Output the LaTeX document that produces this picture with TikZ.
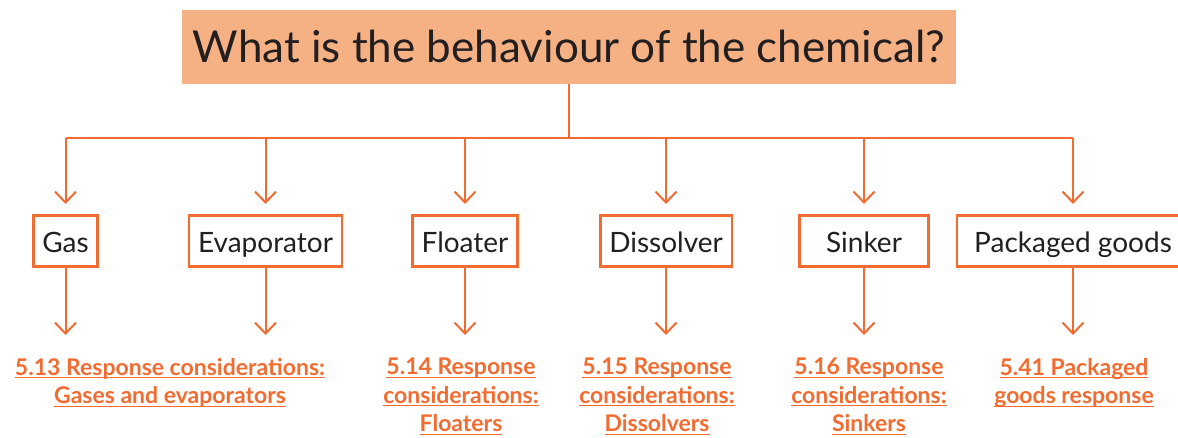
\documentclass[tikz,border=0pt]{standalone}
\usepackage{fontspec}
\setmainfont{Lato}
\usetikzlibrary{arrows.meta}
\definecolor{chemorange}{HTML}{F26B30}
\definecolor{chempeach}{HTML}{F5B184}
\definecolor{chemtext}{HTML}{231F20}
% underlined link text, rule just under the baseline
\newcommand{\underlink}[1]{\leavevmode\setbox0=\hbox{#1}\rlap{\rule[-3pt]{\wd0}{1.2pt}}\box0}
\tikzset{%
  >={Straight Barb[length=11pt,width=21pt]},
  % Specifications for style of nodes:
       question/.style = {rectangle, fill=chempeach, inner sep=0pt,
                          minimum width=774pt, minimum height=74pt,
                          text height=31pt, text depth=0pt,
                          text=chemtext, font=\fontsize{44}{50}\selectfont},
        chembox/.style = {rectangle, draw=chemorange, line width=2.5pt, fill=white,
                          inner xsep=9pt, minimum height=51pt,
                          text height=22pt, text depth=0pt,
                          text=chemtext, font=\fontsize{28}{32}\selectfont},
       chemlink/.style = {align=center, inner sep=0pt, anchor=north, text=chemorange,
                          font=\bfseries\fontsize{23}{28.5}\selectfont},
      connector/.style = {draw=chemorange, line width=2pt},
}

\begin{document}
\begin{tikzpicture}[x=1pt, y=-1pt]
                    \useasboundingbox (0,0) rectangle (1178,437);
                    \clip (0,0) rectangle (1178,437);
                    \node (title)     [question]                        at (569,47)    {What is the behaviour of the chemical?};
                    \node (gas)       [chembox]                         at (65.5,241)  {Gas};
                    \node (evap)      [chembox]                         at (265.5,241) {Evaporator};
                    \node (floater)   [chembox]                         at (465,241)   {Floater};
                    \node (dissolver) [chembox]                         at (666,241)   {Dissolver};
                    \node (sinker)    [chembox, minimum width=129pt]    at (864,241)   {Sinker};
                    \node (packaged)  [chembox, minimum width=232pt]    at (1073,241)  {Packaged goods};
                    \node (gasresp)   [chemlink] at (170,358)  {\underlink{5.13 Response considerations:}\\\underlink{Gases and evaporators}};
                    \node (floatresp) [chemlink] at (461,358)  {\underlink{5.14 Response}\\\underlink{considerations:}\\\underlink{Floaters}};
                    \node (dissresp)  [chemlink] at (657,358)  {\underlink{5.15 Response}\\\underlink{considerations:}\\\underlink{Dissolvers}};
                    \node (sinkresp)  [chemlink] at (869,358)  {\underlink{5.16 Response}\\\underlink{considerations:}\\\underlink{Sinkers}};
                    \node (packresp)  [chemlink] at (1074,358) {\underlink{5.41 Packaged}\\\underlink{goods response}};
                    \coordinate (bus)     at (0,138);
                    \coordinate (boxtip)  at (0,204);
                    \coordinate (linktip) at (0,335);

                    \draw[connector] (title.south) -- (title.south |- bus);
                    \draw[connector] (gas.north |- bus) -- (packaged.north |- bus);
                    \foreach \chem in {gas, evap, floater, dissolver, sinker, packaged} {
                        \draw[connector, ->] (\chem.north |- bus) -- (\chem.north |- boxtip);
                        \draw[connector, ->] (\chem.south) -- (\chem.south |- linktip);
                    }
                \end{tikzpicture}
\end{document}
